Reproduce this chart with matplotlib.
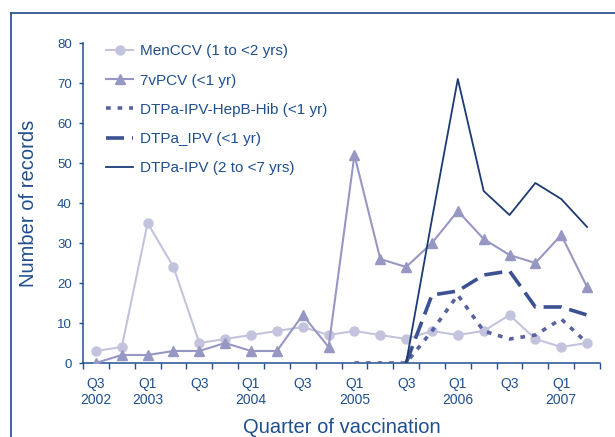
import numpy as np
import matplotlib
matplotlib.use("Agg")
import matplotlib.pyplot as plt
from matplotlib.lines import Line2D

plt.rcParams['font.family'] = ['Liberation Sans', 'DejaVu Sans']

# quarters Q3 2002 .. Q2 2007
quarters = ["Q3 2002", "Q4 2002", "Q1 2003", "Q2 2003", "Q3 2003", "Q4 2003",
            "Q1 2004", "Q2 2004", "Q3 2004", "Q4 2004", "Q1 2005", "Q2 2005",
            "Q3 2005", "Q4 2005", "Q1 2006", "Q2 2006", "Q3 2006", "Q4 2006",
            "Q1 2007", "Q2 2007"]
tick_labels = ["Q3\n2002", "Q1\n2003", "Q3", "Q1\n2004", "Q3", "Q1\n2005",
               "Q3", "Q1\n2006", "Q3", "Q1\n2007"]

nan = np.nan
menccv = [3, 4, 35, 24, 5, 6, 7, 8, 9, 7, 8, 7, 6, 8, 7, 8, 12, 6, 4, 5]
pcv7 = [0, 2, 2, 3, 3, 5, 3, 3, 12, 4, 52, 26, 24, 30, 38, 31, 27, 25, 32, 19]
hexa = [nan]*10 + [0, 0, 0, 8, 17, 8, 6, 7, 11, 5]
dtpa_ipv_inf = [nan]*12 + [0, 17, 18, 22, 23, 14, 14, 12]
dtpa_ipv_child = [nan]*12 + [0, 36, 71, 43, 37, 45, 41, 34]

txt = '#1f4f8f'
x = np.arange(len(quarters))

fig = plt.figure(figsize=(6.15, 4.37), dpi=100)
ax = fig.add_axes([83/615, 1-363/437, (600-83)/615, (363-43)/437])

ax.plot(x, menccv, color='#c3c3de', lw=1.5, marker='o', ms=6.5, label='MenCCV (1 to <2 yrs)', zorder=2)
ax.plot(x, pcv7, color='#9797c3', lw=1.5, marker='^', ms=6.5, label='7vPCV (<1 yr)', zorder=3)
ax.plot(x, hexa, color='#58629e', lw=2.6, dashes=(1.3, 1.9), label='DTPa-IPV-HepB-Hib (<1 yr)', zorder=4)
ax.plot(x, dtpa_ipv_inf, color='#3b5192', lw=2.6, dashes=(5, 2.2), label='DTPa_IPV (<1 yr)', zorder=4)
ax.plot(x, dtpa_ipv_child, color='#1d3a72', lw=1.3, label='DTPa-IPV (2 to <7 yrs)', zorder=5)

ax.set_xlim(-0.5, 19.42)
ax.set_ylim(0, 80)
ax.set_yticks(range(0, 81, 10))
ax.set_xticks(np.arange(-0.5, 19.6, 1))
ax.set_xticklabels([])
ax.set_xticks(np.arange(0, 19, 2), minor=True)
ax.set_xticklabels(tick_labels, minor=True)
ax.tick_params(axis='x', which='major', direction='out', length=4, width=1, color=txt)
ax.tick_params(axis='x', which='minor', length=0, pad=10, labelsize=10, labelcolor=txt)
ax.tick_params(axis='y', direction='out', length=3, width=1, color=txt, pad=5,
               labelsize=9.5, labelcolor=txt)

for s in ['top', 'right']:
    ax.spines[s].set_visible(False)
for s in ['left', 'bottom']:
    ax.spines[s].set_color(txt)
    ax.spines[s].set_linewidth(1.1)

ax.set_ylabel('Number of records', fontsize=14.5, color=txt, labelpad=14)
ax.set_xlabel('Quarter of vaccination', fontsize=14.5, color=txt, labelpad=8)

leg = ax.legend(loc='upper left', bbox_to_anchor=(0.03, 1.02), frameon=False,
                fontsize=11, labelspacing=1.0, handlelength=1.75, handletextpad=0.45,
                borderpad=0)
for t in leg.get_texts():
    t.set_color(txt)

# outer frame
fig.add_artist(Line2D([11/615, 11/615], [0, 1-13/437], transform=fig.transFigure, color='#1f4a8a', lw=1.2))
fig.add_artist(Line2D([11/615, 1], [1-13/437, 1-13/437], transform=fig.transFigure, color='#1f4a8a', lw=1.2))

fig.savefig('out.png', dpi=100)
